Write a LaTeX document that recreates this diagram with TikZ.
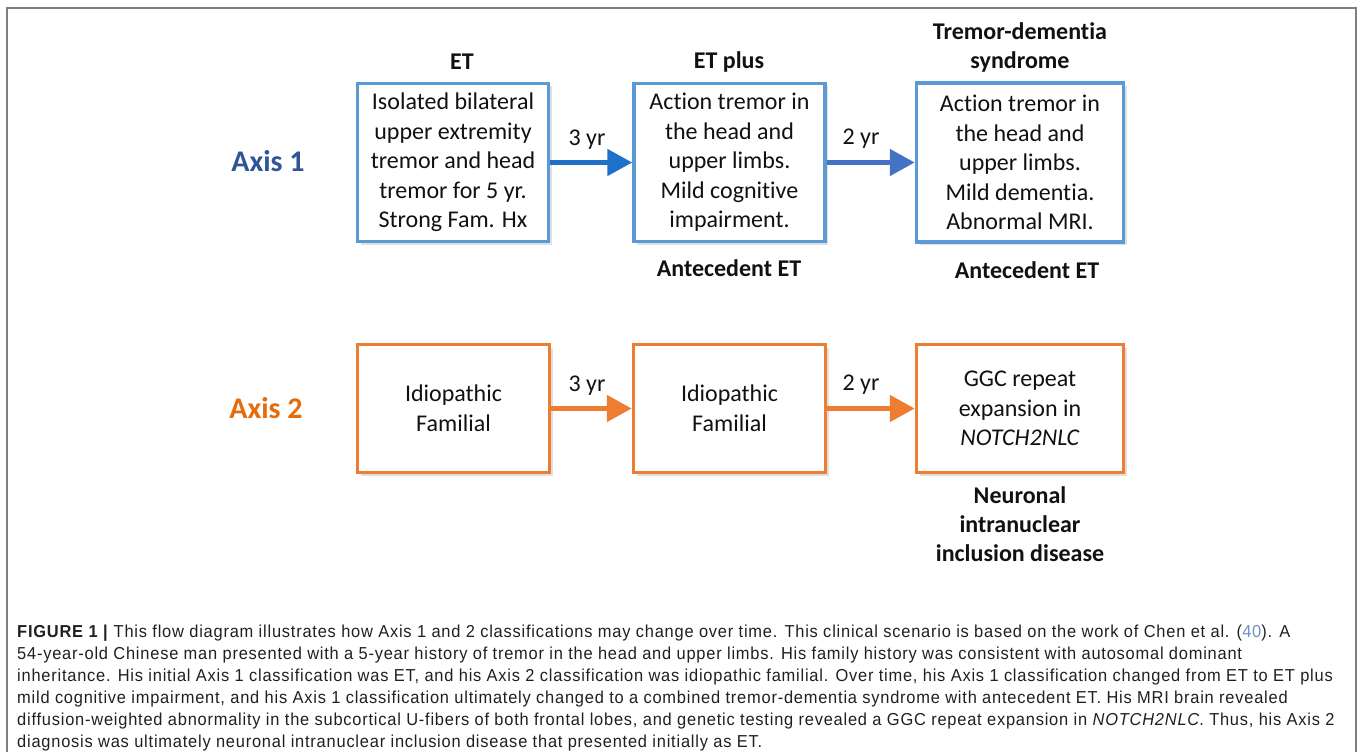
\documentclass[tikz,border=0pt]{standalone}
\usepackage{fontspec}
\setmainfont{Carlito}[Ligatures=NoCommon]
\newfontfamily\capfont{Liberation Sans}[FakeStretch=0.95, LetterSpace=4.5]
\usetikzlibrary{arrows.meta,shadows}
\definecolor{boxblue}{HTML}{5B9BD5}
\definecolor{axisblue}{HTML}{2F5597}
\definecolor{arrblueA}{HTML}{1F70C8}
\definecolor{arrblueB}{HTML}{4472C4}
\definecolor{boxorange}{HTML}{ED7D31}
\definecolor{axisorange}{HTML}{E46C0A}
\definecolor{frameGray}{HTML}{7F7F7F}
\definecolor{captext}{HTML}{231F20}
\definecolor{linkblue}{HTML}{6E8FC9}
\definecolor{bodytext}{HTML}{111111}
\tikzset{
  boxtext/.style={font=\fontsize{24}{29.5}\selectfont, text=bodytext, align=center, inner sep=0pt},
  bluebox/.style={boxtext, draw=boxblue, line width=3.5pt, fill=white,
    drop shadow={shadow xshift=3pt, shadow yshift=-3pt, opacity=0.2, fill=black!60}},
  orangebox/.style={boxtext, draw=boxorange, line width=3.5pt, fill=white,
    drop shadow={shadow xshift=3pt, shadow yshift=-3pt, opacity=0.2, fill=black!60}},
  titletext/.style={font=\bfseries\fontsize{24}{29}\selectfont, text=bodytext, align=center},
  yrlabel/.style={font=\fontsize{24}{29}\selectfont, text=bodytext},
  axislabel/.style={font=\bfseries\fontsize{30}{36}\selectfont},
  arrowA/.style={draw=arrblueA, line width=5pt, -{Triangle[length=25pt,width=26pt]}},
  arrowB/.style={draw=arrblueB, line width=5pt, -{Triangle[length=25pt,width=26pt]}},
  arrowO/.style={draw=boxorange, line width=5pt, -{Triangle[length=25pt,width=26pt]}},
  capline/.style={anchor=base west, inner sep=0pt, text=captext, font=\capfont\fontsize{17.3}{20}\selectfont},
}
\begin{document}
\begin{tikzpicture}[x=1pt,y=-1pt]
\useasboundingbox (0,0) rectangle (1358,752);
\fill[white] (0,0) rectangle (1358,752);
\draw[frameGray, line width=1.5pt] (7,770) -- (7,8) -- (1356,8) -- (1356,770);

% axis labels
\node[axislabel, text=axisblue] (ax1) at (268,161) {Axis 1};
\node[axislabel, text=axisorange] (ax2) at (266,408) {Axis 2};

% Axis 1 boxes
\node[bluebox, minimum width=191pt, minimum height=158pt] (b1) at (453,162.5)
  {Isolated bilateral\\upper extremity\\tremor and head\\tremor for 5 yr.\\Strong Fam. Hx};
\node[bluebox, minimum width=191pt, minimum height=158pt] (b2) at (729.5,162.5)
  {Action tremor in\\the head and\\upper limbs.\\Mild cognitive\\impairment.};
\node[bluebox, minimum width=207pt, minimum height=159pt] (b3) at (1020,162.5)
  {Action tremor in\\the head and\\upper limbs.\\Mild dementia.\\Abnormal MRI.};

% Axis 2 boxes
\node[orangebox, minimum width=192pt, minimum height=128pt] (o1) at (453.5,408.5)
  {Idiopathic\\Familial};
\node[orangebox, minimum width=192pt, minimum height=128pt] (o2) at (729.5,408.5)
  {Idiopathic\\Familial};
\node[orangebox, minimum width=207pt, minimum height=128pt] (o3) at (1020,408.5)
  {GGC repeat\\expansion in\\\textit{NOTCH2NLC}};

% titles
\node[titletext] (t1) at (462,62) {ET};
\node[titletext] (t2) at (729,62) {ET plus};
\node[titletext] (t3) at (1020,47) {Tremor-dementia\\syndrome};
\node[titletext] (a2) at (729,268) {Antecedent ET};
\node[titletext] (a3) at (1027,270) {Antecedent ET};
\node[titletext] (nd) at (1020,524) {Neuronal\\intranuclear\\inclusion disease};

% arrows
\draw[arrowA] (b1.east) -- (b2.west);
\draw[arrowB] (b2.east) -- (b3.west);
\draw[arrowO] (o1.east) -- (o2.west);
\draw[arrowO] (o2.east) -- (o3.west);
\node[yrlabel] (y1) at (587,140) {3 yr};
\node[yrlabel] (y2) at (861,139) {2 yr};
\node[yrlabel] (y3) at (587,386) {3 yr};
\node[yrlabel] (y4) at (861,385) {2 yr};

% caption
\node[capline] (c1) at (17,637) {\textbf{FIGURE 1 |} This flow diagram illustrates how Axis 1 and 2 classifications may change over time. This clinical scenario is based on the work of Chen et al. ({\color{linkblue}40}). A};
\node[capline] (c2) at (17,659.2) {54-year-old Chinese man presented with a 5-year history of tremor in the head and upper limbs. His family history was consistent with autosomal dominant};
\node[capline] (c3) at (17,681.4) {inheritance. His initial Axis 1 classification was ET, and his Axis 2 classification was idiopathic familial. Over time, his Axis 1 classification changed from ET to ET plus};
\node[capline] (c4) at (17,703.6) {mild cognitive impairment, and his Axis 1 classification ultimately changed to a combined tremor-dementia syndrome with antecedent ET. His MRI brain revealed};
\node[capline] (c5) at (17,725.8) {diffusion-weighted abnormality in the subcortical U-fibers of both frontal lobes, and genetic testing revealed a GGC repeat expansion in \textit{NOTCH2NLC}. Thus, his Axis 2};
\node[capline] (c6) at (17,747) {diagnosis was ultimately neuronal intranuclear inclusion disease that presented initially as ET.};
\end{tikzpicture}
\end{document}
